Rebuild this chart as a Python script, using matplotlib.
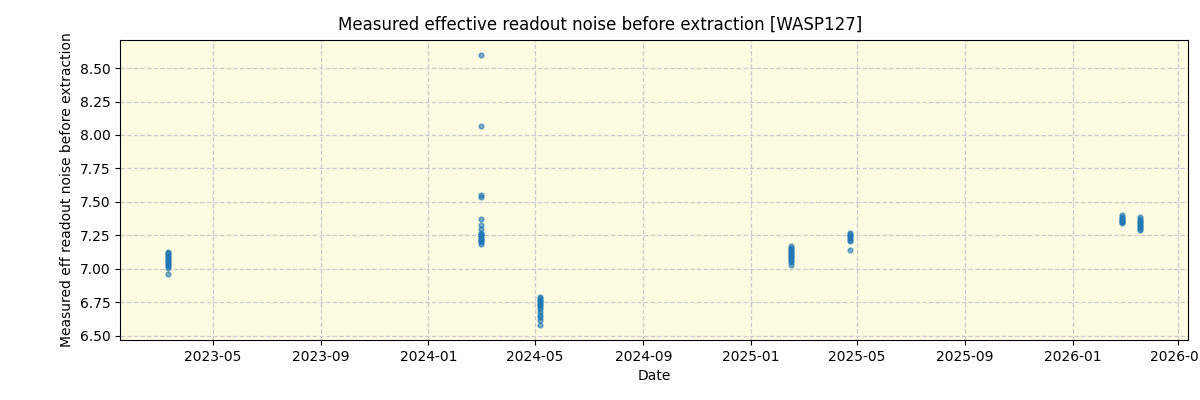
import matplotlib
matplotlib.use("Agg")
import matplotlib.pyplot as plt
import matplotlib.dates as mdates
import pandas as pd

dates_1 = ["2023-03-12"] * 14
vals_1 = [6.96, 7.01, 7.02, 7.03, 7.04, 7.05, 7.06, 7.07, 7.08, 7.09, 7.10, 7.11, 7.12, 7.13]

dates_2 = ["2024-03-01"] * 18
vals_2 = [8.60, 8.07, 7.55, 7.54, 7.37, 7.33, 7.30, 7.27, 7.26, 7.25, 7.24, 7.23, 7.22, 7.21, 7.20, 7.19, 7.25, 7.22]

dates_3 = ["2024-05-07"] * 14
vals_3 = [6.58, 6.62, 6.64, 6.66, 6.68, 6.70, 6.72, 6.73, 6.74, 6.75, 6.76, 6.77, 6.78, 6.79]

dates_4 = ["2025-02-15"] * 14
vals_4 = [7.03, 7.05, 7.06, 7.07, 7.08, 7.09, 7.10, 7.11, 7.12, 7.13, 7.14, 7.15, 7.16, 7.17]

dates_5 = ["2025-04-23"] * 8
vals_5 = [7.14, 7.21, 7.22, 7.23, 7.24, 7.25, 7.26, 7.27]

dates_6 = ["2026-02-26"] * 8
vals_6 = [7.34, 7.35, 7.36, 7.37, 7.38, 7.39, 7.40, 7.36]

dates_7 = ["2026-03-18"] * 10
vals_7 = [7.29, 7.30, 7.31, 7.32, 7.33, 7.34, 7.35, 7.36, 7.37, 7.39]

all_dates = pd.to_datetime(dates_1 + dates_2 + dates_3 + dates_4 + dates_5 + dates_6 + dates_7)
all_vals = vals_1 + vals_2 + vals_3 + vals_4 + vals_5 + vals_6 + vals_7

fig = plt.figure(figsize=(12, 4), dpi=100)
ax = fig.add_axes([0.1, 0.15, 0.89, 0.75])
ax.set_facecolor("#fdfbe1")
ax.scatter(all_dates, all_vals, s=12, color="#1f77b4", alpha=0.6, zorder=3)
ax.grid(True, linestyle="--", color="#cccccc", linewidth=0.9, zorder=0)
ax.set_axisbelow(True)
ax.set_xlim(pd.Timestamp("2023-01-16"), pd.Timestamp("2026-05-12"))
ax.set_ylim(6.47, 8.709)
ax.set_yticks([6.50, 6.75, 7.00, 7.25, 7.50, 7.75, 8.00, 8.25, 8.50])
ax.yaxis.set_major_formatter(matplotlib.ticker.FormatStrFormatter("%.2f"))
ax.xaxis.set_major_locator(mdates.MonthLocator(bymonth=[1, 5, 9]))
ax.xaxis.set_major_formatter(mdates.DateFormatter("%Y-%m"))
ax.set_xlabel("Date")
ax.set_ylabel("Measured eff readout noise before extraction")
fig.suptitle("Measured effective readout noise before extraction [WASP127]", fontsize=12, y=0.96)
fig.savefig("out.png", dpi=100)
